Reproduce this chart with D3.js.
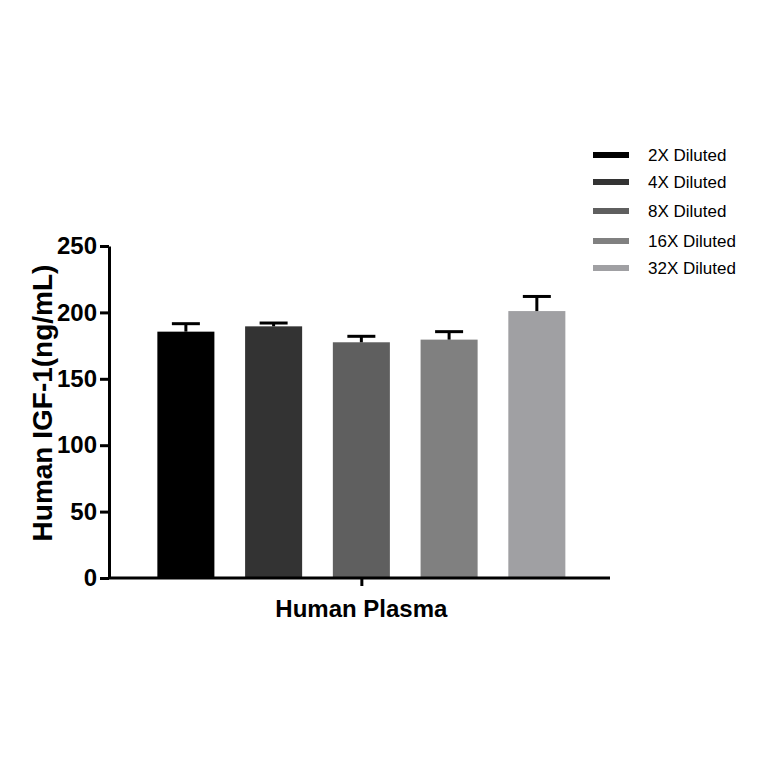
<!DOCTYPE html>
<html>
<head>
<meta charset="utf-8">
<script src="https://cdn.jsdelivr.net/npm/d3@7"></script>
<style>
    body { margin: 0; background: #fff; }
</style>
</head>
<body>
<div id="chart"></div>
<script>
// data
const groups = ["2X Diluted", "4X Diluted", "8X Diluted", "16X Diluted", "32X Diluted"];
const means = [185.5, 189.5, 177.5, 179.5, 201];
const errors = [6, 2.5, 4.5, 6, 11];
const colors = ["#000000", "#333333", "#5f5f5f", "#808080", "#a0a0a3"];
const yTicks = [0, 50, 100, 150, 200, 250];
const category = "Human Plasma";

const width = 764;
const height = 764;

const svg = d3.select("#chart")
    .append("svg")
    .attr("width", width)
    .attr("height", height);

const y = d3.scaleLinear()
    .domain([0, 250])
    .range([578, 246]);

const x = d3.scaleBand()
    .domain(groups)
    .range([109, 610])
    .paddingInner(0.35)
    .paddingOuter(0.53)
    .align(0.52);

// bars
svg.selectAll("rect.bar")
    .data(groups)
    .enter()
    .append("rect")
    .attr("class", "bar")
    .attr("x", d => x(d))
    .attr("width", x.bandwidth())
    .attr("y", (d, i) => y(means[i]))
    .attr("height", (d, i) => y(0) - y(means[i]))
    .attr("fill", (d, i) => colors[i]);

// error bars (upper only)
const capHalf = 14;
const err = svg.append("g")
    .attr("stroke", "#000")
    .attr("stroke-width", 3);

groups.forEach((g, i) => {
    const cx = x(g) + x.bandwidth() / 2;
    err.append("line")
        .attr("x1", cx).attr("x2", cx)
        .attr("y1", y(means[i])).attr("y2", y(means[i] + errors[i]));
    err.append("line")
        .attr("x1", cx - capHalf).attr("x2", cx + capHalf)
        .attr("y1", y(means[i] + errors[i])).attr("y2", y(means[i] + errors[i]));
});

// y axis
const yAxis = svg.append("g")
    .attr("transform", "translate(109,0)")
    .call(d3.axisLeft(y).tickValues(yTicks).tickSize(9).tickPadding(3).tickSizeOuter(0));

yAxis.select(".domain").attr("stroke-width", 3);
yAxis.selectAll(".tick line").attr("stroke-width", 3);
yAxis.selectAll(".tick text")
    .style("font-family", "'Liberation Sans', Arial, sans-serif")
    .style("font-weight", "bold")
    .style("font-size", "24px")
    .attr("fill", "#000");

// x axis: one category with a single centre tick
const xAxisScale = d3.scalePoint()
    .domain([category])
    .range([109, 610])
    .padding(0.5);

const xAxis = svg.append("g")
    .attr("transform", "translate(0,578)")
    .call(d3.axisBottom(xAxisScale).tickSize(8).tickSizeOuter(0).tickFormat(""));

xAxis.select(".domain")
    .attr("d", "M109,0H610")
    .attr("stroke-width", 3);
xAxis.selectAll(".tick line")
    .attr("x1", x(groups[2]) + x.bandwidth() / 2 - xAxisScale(category))
    .attr("x2", x(groups[2]) + x.bandwidth() / 2 - xAxisScale(category))
    .attr("stroke-width", 3);

svg.append("text")
    .attr("x", x(groups[2]) + x.bandwidth() / 2)
    .attr("y", 617)
    .attr("text-anchor", "middle")
    .style("font-family", "'Liberation Sans', Arial, sans-serif")
    .style("font-weight", "bold")
    .style("font-size", "24px")
    .text(category);

svg.append("text")
    .attr("transform", "translate(52,403) rotate(-90)")
    .attr("text-anchor", "middle")
    .style("font-family", "'Liberation Sans', Arial, sans-serif")
    .style("font-weight", "bold")
    .style("font-size", "28px")
    .text("Human IGF-1(ng/mL)");

// legend
const legendY = [155, 182, 211, 241, 268];
const legend = svg.selectAll("g.legend")
    .data(groups)
    .enter()
    .append("g")
    .attr("class", "legend")
    .attr("transform", (d, i) => `translate(593,${legendY[i]})`);

legend.append("rect")
    .attr("x", 0)
    .attr("y", -3)
    .attr("width", 36)
    .attr("height", 6)
    .attr("fill", (d, i) => colors[i]);

legend.append("text")
    .attr("x", 55)
    .attr("y", 6)
    .style("font-family", "'Liberation Sans', Arial, sans-serif")
    .style("font-size", "17px")
    .attr("fill", "#000")
    .text(d => d);
</script>
</body>
</html>
